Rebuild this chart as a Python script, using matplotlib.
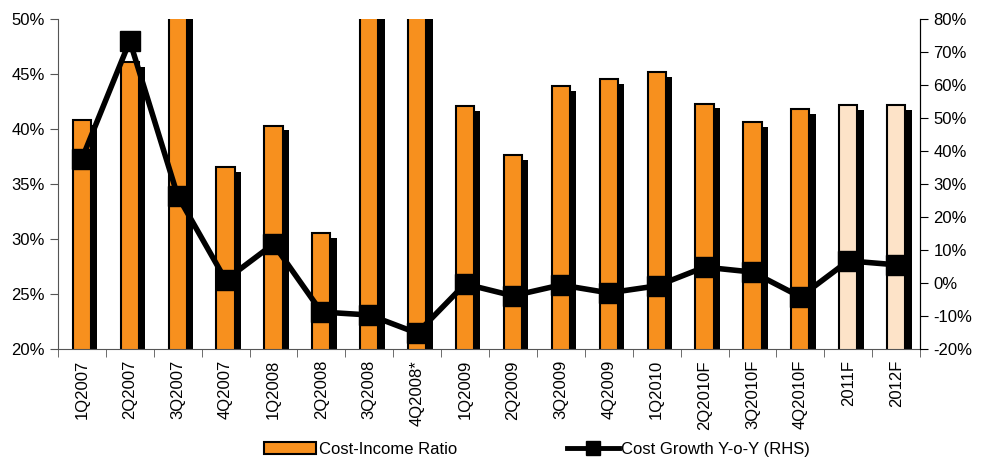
import numpy as np
import matplotlib.pyplot as plt
import matplotlib.patheffects as pe
from matplotlib.patches import Patch
from matplotlib.lines import Line2D

plt.rcParams['font.family'] = ['Liberation Sans', 'DejaVu Sans']

quarters = ["1Q2007", "2Q2007", "3Q2007", "4Q2007", "1Q2008", "2Q2008", "3Q2008",
            "4Q2008*", "1Q2009", "2Q2009", "3Q2009", "4Q2009", "1Q2010", "2Q2010F",
            "3Q2010F", "4Q2010F", "2011F", "2012F"]
# 成本收入比 (%), 3Q2007 / 3Q2008 / 4Q2008* 超出坐标上限
cost_income = [40.8, 46.1, 55.0, 36.5, 40.3, 30.5, 55.0, 55.0, 42.1, 37.6,
               43.9, 44.5, 45.2, 42.3, 40.6, 41.8, 42.2, 42.2]
# 成本同比增长 (%)
cost_growth = [37.6, 73.3, 26.4, 0.9, 11.8, -8.8, -9.7, -15.2, -0.3, -3.9,
               -0.6, -3.0, -0.9, 4.8, 3.3, -4.2, 6.7, 5.5]
forecast = [False] * 16 + [True, True]

orange = '#F7901E'
light = '#FDE3C8'

fig = plt.figure(figsize=(9.82, 4.61), dpi=100)
ax = fig.add_axes([0.059, 0.243, 0.878, 0.716])
ax2 = ax.twinx()

x = np.arange(len(quarters))
colors = [light if f else orange for f in forecast]
bars = ax.bar(x, cost_income, width=0.38, color=colors, edgecolor='black',
              linewidth=1.5, zorder=2)
for b in bars:
    b.set_path_effects([pe.SimplePatchShadow(offset=(4.5, -3.5), shadow_rgbFace='black', alpha=1),
                        pe.Normal()])

ax2.plot(x, cost_growth, color='black', lw=4, marker='s', markersize=15, zorder=3)

ax.set_xlim(-0.5, len(quarters) - 0.5)
ax.set_ylim(20, 50)
ax.set_yticks(np.arange(20, 51, 5))
ax.set_yticklabels([f"{v}%" for v in range(20, 51, 5)])
ax2.set_ylim(-20, 80)
ax2.set_yticks(np.arange(-20, 81, 10))
ax2.set_yticklabels([f"{v}%" for v in range(-20, 81, 10)])

ax.set_xticks(x)
ax.set_xticklabels(quarters, rotation=90)
ax.set_xticks(np.arange(-0.5, len(quarters), 1), minor=True)
ax.tick_params(axis='x', which='major', length=0, pad=8, labelsize=12)
ax.tick_params(axis='x', which='minor', length=6, color='#555555')
ax.tick_params(axis='y', labelsize=12, length=6, color='#555555')
ax2.tick_params(axis='y', labelsize=12, length=6)

for a in (ax, ax2):
    a.spines['top'].set_visible(False)
ax.spines['left'].set_color('#555555')
ax.spines['bottom'].set_color('#555555')
ax2.spines['left'].set_visible(False)
ax2.spines['bottom'].set_visible(False)
ax2.spines['right'].set_color('black')

handles = [Patch(facecolor=orange, edgecolor='black', linewidth=1.5),
           Line2D([], [], color='black', lw=3.5, marker='s', markersize=10)]
fig.legend(handles, ["Cost-Income Ratio", "Cost Growth Y-o-Y (RHS)"],
           loc='center', bbox_to_anchor=(0.547, 0.026), ncol=2, frameon=False,
           fontsize=12, handlelength=3.1, handletextpad=0.15, columnspacing=6.6,
           borderpad=0)

fig.savefig('out.png', dpi=100)
